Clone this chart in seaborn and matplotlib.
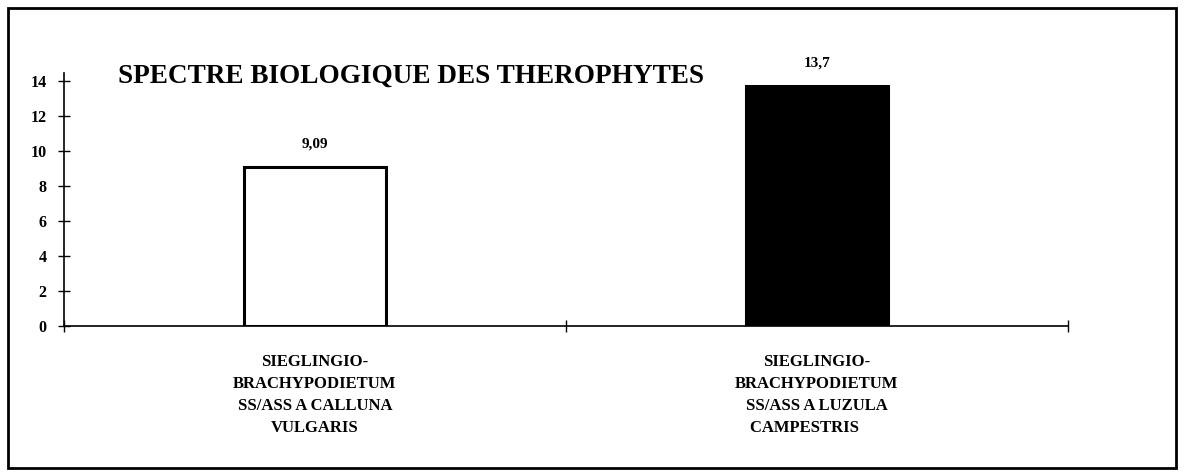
import matplotlib
matplotlib.use("Agg")
import matplotlib.pyplot as plt
import seaborn as sns
import pandas as pd
from matplotlib.patches import Rectangle

# Data
categories = [
    "SIEGLINGIO-\nBRACHYPODIETUM\nSS/ASS A CALLUNA\nVULGARIS",
    "SIEGLINGIO-\nBRACHYPODIETUM\nSS/ASS A LUZULA\nCAMPESTRIS      ",
]
values = [9.09, 13.7]
value_labels = ["9,09", "13,7"]
bar_colors = ["white", "black"]
yticks = [0, 2, 4, 6, 8, 10, 12, 14]

df = pd.DataFrame({"groupement": categories, "pct": values})

sns.set_style("ticks")
plt.rcParams["font.family"] = ["Liberation Serif", "DejaVu Serif"]
plt.rcParams["font.weight"] = "bold"
plt.rcParams["text.color"] = "black"
plt.rcParams["xtick.color"] = "black"
plt.rcParams["ytick.color"] = "black"
plt.rcParams["axes.edgecolor"] = "black"

fig = plt.figure(figsize=(11.84, 4.76), dpi=100)
ax = fig.add_axes([0.054, 0.315, 0.848, 0.532])

sns.barplot(data=df, x="groupement", y="pct", hue="groupement",
            palette=bar_colors, edgecolor="black", linewidth=2.2,
            width=0.283, legend=False, ax=ax)

ax.set_xlim(-0.5, 1.5)
ax.set_ylim(0, 14.46)
ax.set_yticks(yticks)
ax.set_yticklabels([str(t) for t in yticks], fontsize=11.5, fontweight="bold")
ax.set_xticks([0, 1])
ax.set_xticklabels(categories, fontsize=12, fontweight="bold",
                   linespacing=1.5)
ax.tick_params(axis="x", which="major", length=0, pad=20)
ax.set_xticks([-0.5, 0.5, 1.5], minor=True)
ax.tick_params(axis="x", which="minor", direction="inout", length=9, width=1)
ax.tick_params(axis="y", direction="inout", length=9, width=1, pad=8)
ax.set_xlabel("")
ax.set_ylabel("")

for s in ["top", "right"]:
    ax.spines[s].set_visible(False)
for s in ["left", "bottom"]:
    ax.spines[s].set_linewidth(1.2)

# value labels
for i, (v, lab) in enumerate(zip(values, value_labels)):
    ax.annotate(lab, (i, v), xytext=(0, 12), textcoords="offset points",
                ha="center", va="bottom", fontsize=11, fontweight="bold")

fig.text(0.1, 0.84, "SPECTRE BIOLOGIQUE DES THEROPHYTES",
         fontsize=19.6, fontweight="bold", ha="left", va="center")

# outer frame
fig.patches.append(Rectangle((0.0065, 0.017), 0.987, 0.966,
                             transform=fig.transFigure, fill=False,
                             edgecolor="black", linewidth=2))

fig.savefig("out.png", dpi=100, facecolor="white")
